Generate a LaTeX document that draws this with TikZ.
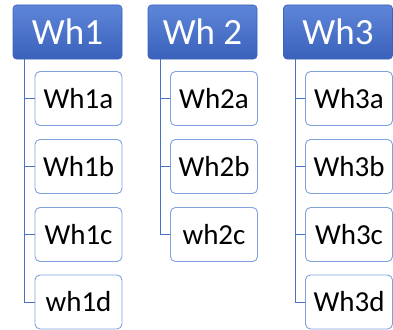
\documentclass[tikz,border=0pt]{standalone}
\usepackage{fontspec}
\setmainfont{Carlito}
\begin{document}
\begin{tikzpicture}[x=1pt,y=-1pt,
  hdr/.style={rounded corners=3.5pt, top color=hdrtop, bottom color=hdrbot, draw=hdrbot, line width=0.6pt,
    minimum width=109pt, minimum height=54pt, inner sep=0pt, text=white, font=\fontsize{37}{40}\selectfont},
  child/.style={rounded corners=5pt, fill=white, draw=childborder, line width=0.9pt,
    minimum width=87pt, minimum height=54pt, inner sep=0pt, font=\fontsize{29}{32}\selectfont},
  conn/.style={draw=connc, line width=1pt}]
\definecolor{hdrtop}{HTML}{5E86D8}
\definecolor{hdrbot}{HTML}{3A61BC}
\definecolor{childborder}{HTML}{7FA2DD}
\definecolor{connc}{HTML}{4A72C4}
\useasboundingbox (0,0) rectangle (393,329);
% headers
\node[hdr] (h1) at (67.5,32) {Wh1};
\node[hdr] (h2) at (202.5,32) {Wh 2};
\node[hdr] (h3) at (338,32) {Wh3};
% column 1
\node[child] (c1a) at (78.5,98.5) {Wh1a};
\node[child] (c1b) at (78.5,166.5) {Wh1b};
\node[child] (c1c) at (78.5,234.5) {Wh1c};
\node[child] (c1d) at (78.5,302) {wh1d};
% column 2
\node[child] (c2a) at (214,98.5) {Wh2a};
\node[child] (c2b) at (214,166.5) {Wh2b};
\node[child] (c2c) at (214,234.5) {wh2c};
% column 3
\node[child] (c3a) at (349,98.5) {Wh3a};
\node[child] (c3b) at (349,166.5) {Wh3b};
\node[child] (c3c) at (349,234.5) {Wh3c};
\node[child] (c3d) at (349,302) {Wh3d};
% connectors
\coordinate (t1) at (24,59);
\coordinate (t2) at (160,59);
\coordinate (t3) at (295,59);
\draw[conn] (t1) |- (c1d.west);
\draw[conn] (t1 |- c1a.west) -- (c1a.west);
\draw[conn] (t1 |- c1b.west) -- (c1b.west);
\draw[conn] (t1 |- c1c.west) -- (c1c.west);
\draw[conn] (t2) |- (c2c.west);
\draw[conn] (t2 |- c2a.west) -- (c2a.west);
\draw[conn] (t2 |- c2b.west) -- (c2b.west);
\draw[conn] (t3) |- (c3d.west);
\draw[conn] (t3 |- c3a.west) -- (c3a.west);
\draw[conn] (t3 |- c3b.west) -- (c3b.west);
\draw[conn] (t3 |- c3c.west) -- (c3c.west);
\end{tikzpicture}
\end{document}
